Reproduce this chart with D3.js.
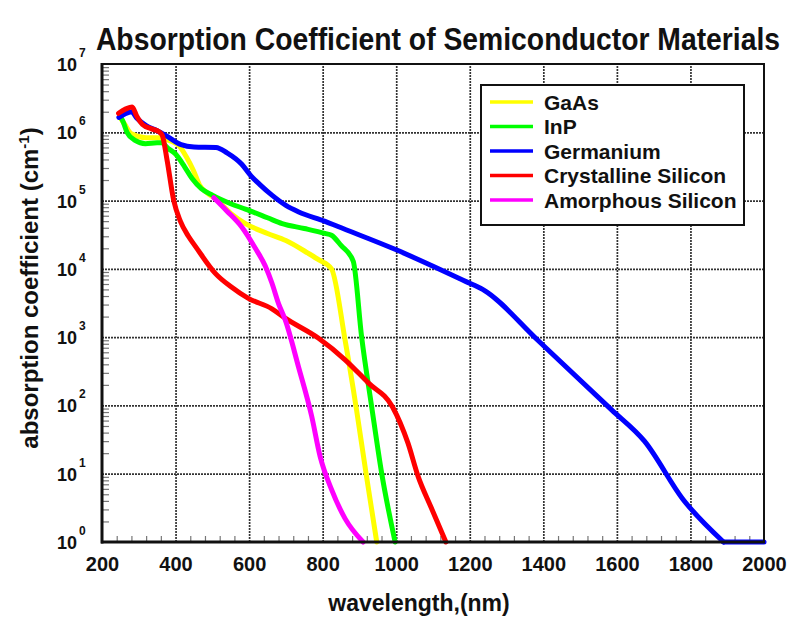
<!DOCTYPE html>
<html>
<head>
<meta charset="utf-8">
<script src="https://cdn.jsdelivr.net/npm/d3@7"></script>
<style>
 body { margin: 0; background: #fff; }
 svg text { font-family: "Liberation Sans", Arial, sans-serif; font-weight: bold; fill: #111; }
</style>
</head>
<body>
<svg id="chart" width="794" height="619"></svg>
<script>
// wavelength (nm), absorption coefficient (cm^-1)
var gaas = [[248,1.7e6],[262,1.3e6],[280,9.5e5],[320,8.3e5],[355,8.3e5],[375,7.8e5],[410,6.3e5],[430,4.3e5],[448,2.8e5],[465,1.7e5],[490,1.25e5],[510,1.05e5],[550,6.5e4],[590,4.6e4],[650,3.3e4],[700,2.6e4],[760,1.7e4],[790,1.35e4],[824,1.0e4],[861,9e2],[892,87],[919,9.3],[947,1]];
var inp = [[250,1.7e6],[258,1.4e6],[268,1.0e6],[290,7.6e5],[318,6.8e5],[350,7e5],[362,7e5],[380,5.8e5],[400,4.8e5],[425,3.1e5],[445,2.1e5],[470,1.5e5],[500,1.2e5],[550,9e4],[590,7.5e4],[650,5.6e4],[690,4.6e4],[750,3.9e4],[806,3.3e4],[824,3.1e4],[850,2.2e4],[883,1.3e4],[906,1.0e3],[933,98],[960,10.5],[997,1]];
var germanium = [[246,1.65e6],[262,1.85e6],[280,2.0e6],[295,1.6e6],[320,1.25e6],[350,1.05e6],[373,9e5],[415,6.6e5],[450,6.1e5],[510,6e5],[540,5e5],[580,3.4e5],[605,2.3e5],[630,1.7e5],[662,1.2e5],[700,8.5e4],[735,6.8e4],[805,5e4],[840,4.2e4],[1000,1.9e4],[1190,6.5e3],[1235,5e3],[1385,9e2],[1585,87],[1675,30],[1780,4.2],[1890,1],[2000,1]];
var cSilicon = [[245,1.9e6],[265,2.2e6],[282,2.35e6],[295,1.7e6],[310,1.3e6],[335,1.12e6],[355,1.02e6],[364,9e5],[377,3.9e5],[395,1.0e5],[413,5e4],[435,3e4],[455,2.1e4],[508,8.6e3],[550,5.5e3],[598,3.7e3],[662,2.6e3],[698,1.9e3],[788,970],[861,466],[924,214],[990,95],[1032,28],[1059,9.3],[1095,3.2],[1135,1]];
var aSilicon = [[504,1.1e5],[540,7e4],[580,4.1e4],[617,2.0e4],[644,1.1e4],[662,6.2e3],[680,3.1e3],[698,1.8e3],[734,372],[770,70],[793,18],[824,5.9],[861,2.2],[910,1]];

var seriesNames = ["GaAs", "InP", "Germanium", "Crystalline Silicon", "Amorphous Silicon"];
var seriesColors = ["#ffff00", "#00ff00", "#0000ff", "#ff0000", "#ff00ff"];
var seriesData = [gaas, inp, germanium, cSilicon, aSilicon];

var xTicks = [200, 400, 600, 800, 1000, 1200, 1400, 1600, 1800, 2000];
var yTicks = [1, 10, 100, 1e3, 1e4, 1e5, 1e6, 1e7];

var plotLeft = 102, plotRight = 764, plotTop = 64, plotBottom = 542;

var svg = d3.select("#chart");

var x = d3.scaleLinear().domain([200, 2000]).range([plotLeft, plotRight]);
var y = d3.scaleLog().domain([1, 1e7]).range([plotBottom, plotTop]);

// grid
var grid = svg.append("g");
grid.append("g")
 .attr("transform", "translate(0," + plotBottom + ")")
 .call(d3.axisBottom(x).tickValues(xTicks.slice(1, -1)).tickSize(-(plotBottom - plotTop)).tickFormat(""))
 .call(function(g) { g.select(".domain").remove(); });
grid.append("g")
 .attr("transform", "translate(" + plotLeft + ",0)")
 .call(d3.axisLeft(y).tickValues(yTicks.slice(1, -1)).tickSize(-(plotRight - plotLeft)).tickFormat(""))
 .call(function(g) { g.select(".domain").remove(); });
grid.selectAll("line")
 .attr("stroke", "#333")
 .attr("stroke-width", 1.7)
 .attr("stroke-dasharray", "2,1");

// minor ticks
var minorX = d3.range(200, 2001, 40).filter(function(v) { return (v - 200) % 200 != 0; });
var minorY = [];
yTicks.slice(0, -1).forEach(function(d) {
 for (var k = 2; k < 10; k++) minorY.push(d * k);
});
svg.append("g")
 .attr("transform", "translate(0," + plotBottom + ")")
 .call(d3.axisBottom(x).tickValues(minorX).tickSize(-6).tickFormat(""))
 .call(function(g) { g.select(".domain").remove(); g.selectAll("line").attr("stroke", "#777").attr("stroke-width", 1.2); });
svg.append("g")
 .attr("transform", "translate(" + plotLeft + ",0)")
 .call(d3.axisLeft(y).tickValues(minorY).tickSize(-7).tickFormat(""))
 .call(function(g) { g.select(".domain").remove(); g.selectAll("line").attr("stroke", "#777").attr("stroke-width", 1.2); });

// curves: smooth part, plus the flat run along the floor drawn straight
var line = d3.line()
 .x(function(d) { return x(d[0]); })
 .y(function(d) { return y(d[1]); })
 .curve(d3.curveMonotoneX);
var straight = d3.line()
 .x(function(d) { return x(d[0]); })
 .y(function(d) { return y(d[1]); });

var curves = svg.append("g");
seriesData.forEach(function(d, i) {
 var cut = d.findIndex(function(p) { return p[1] <= 1; });
 if (cut < 0) cut = d.length - 1;
 var parts = [line(d.slice(0, cut + 1))];
 if (cut < d.length - 1) parts.push(straight(d.slice(cut)));
 parts.forEach(function(p) {
  curves.append("path")
   .attr("d", p)
   .attr("fill", "none")
   .attr("stroke", seriesColors[i])
   .attr("stroke-width", 5)
   .attr("stroke-linejoin", "round")
   .attr("stroke-linecap", "round");
 });
});

// frame
svg.append("rect")
 .attr("x", plotLeft).attr("y", plotTop)
 .attr("width", plotRight - plotLeft).attr("height", plotBottom - plotTop)
 .attr("fill", "none").attr("stroke", "#111").attr("stroke-width", 2);
svg.append("line").attr("x1", plotLeft).attr("x2", plotLeft).attr("y1", plotTop - 1).attr("y2", plotBottom + 1.5)
 .attr("stroke", "#111").attr("stroke-width", 3);
svg.append("line").attr("x1", plotLeft - 1).attr("x2", plotRight + 1).attr("y1", plotBottom).attr("y2", plotBottom)
 .attr("stroke", "#111").attr("stroke-width", 3);

// x tick labels
var xAxis = svg.append("g")
 .attr("transform", "translate(0," + plotBottom + ")")
 .call(d3.axisBottom(x).tickValues(xTicks).tickSize(0).tickPadding(15).tickFormat(d3.format("d")));
xAxis.select(".domain").remove();
xAxis.selectAll("text")
 .attr("dy", "0.71em")
 .style("font-size", "20px")
 .style("font-family", "'Liberation Sans', Arial, sans-serif")
 .style("font-weight", "bold")
 .attr("fill", "#111");

// y tick labels: 10 with the exponent raised
var yAxis = svg.append("g")
 .attr("transform", "translate(" + plotLeft + ",0)")
 .call(d3.axisLeft(y).tickValues(yTicks).tickSize(0).tickFormat(""));
yAxis.select(".domain").remove();
var yLab = yAxis.selectAll(".tick").append("text")
 .attr("x", -45)
 .attr("y", 6.5)
 .attr("text-anchor", "start")
 .style("font-size", "18px");
yLab.append("tspan").text("10");
yLab.append("tspan")
 .attr("dx", 2).attr("dy", -14)
 .style("font-size", "12px")
 .text(function(d) { return Math.round(Math.log10(d)); });

// legend
var legend = svg.append("g").attr("transform", "translate(481,85)");
legend.append("rect")
 .attr("width", 263).attr("height", 140)
 .attr("fill", "#fff").attr("stroke", "#111").attr("stroke-width", 2);
var item = legend.selectAll(".item")
 .data(seriesNames)
 .enter().append("g")
 .attr("transform", function(d, i) { return "translate(0," + (17 + i * 24.5) + ")"; });
item.append("line")
 .attr("x1", 9).attr("x2", 52)
 .attr("stroke", function(d, i) { return seriesColors[i]; })
 .attr("stroke-width", 3.5);
item.append("text")
 .attr("x", 63).attr("y", 7.5)
 .style("font-size", "21px")
 .text(function(d) { return d; });

// title and axis labels
svg.append("text")
 .attr("transform", "translate(438,50) scale(0.885,1)")
 .attr("text-anchor", "middle")
 .style("font-size", "32px")
 .text("Absorption Coefficient of Semiconductor Materials");

svg.append("text")
 .attr("x", 419).attr("y", 611)
 .attr("text-anchor", "middle")
 .style("font-size", "23px")
 .text("wavelength,(nm)");

var yl = svg.append("text")
 .attr("transform", "translate(38,288) rotate(-90)")
 .attr("text-anchor", "middle")
 .style("font-size", "24px");
yl.append("tspan").text("absorption coefficient (cm");
yl.append("tspan").attr("dy", -9).style("font-size", "15px").text("-1");
yl.append("tspan").attr("dy", 9).text(")");
</script>
</body>
</html>
